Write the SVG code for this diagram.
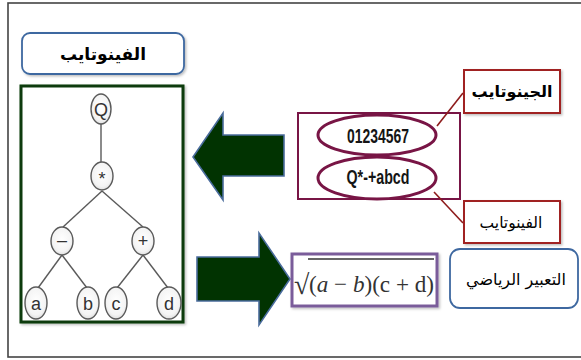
<svg xmlns="http://www.w3.org/2000/svg" width="581" height="360" viewBox="0 0 581 360">
<defs>
<radialGradient id="ng" cx="0.5" cy="0.45" r="0.6">
<stop offset="0" stop-color="#ffffff"/>
<stop offset="0.7" stop-color="#f4f4f4"/>
<stop offset="1" stop-color="#d8d8d8"/>
</radialGradient>
<filter id="sh" x="-10%" y="-10%" width="130%" height="130%">
<feDropShadow dx="1.5" dy="1.5" stdDeviation="1" flood-color="#000" flood-opacity="0.25"/>
</filter>
</defs>
<style>
.frame{fill:#fff;stroke:#444;stroke-width:1.6}
.bluebox{fill:#fff;stroke:#3e68a0;stroke-width:1.8}
.redbox{fill:#fff;stroke:#a02020;stroke-width:2}
.node{fill:url(#ng);stroke:#5a5a5a;stroke-width:1.4}
.edge{stroke:#5a5a5a;stroke-width:1.4;fill:none}
.ntxt{font-family:"Liberation Sans",Arial,sans-serif;font-size:18px;fill:#333;text-anchor:middle}
.ar{font-family:"DejaVu Sans",sans-serif;fill:#000;text-anchor:middle}
.arrow{fill:#013301;stroke:#4a6c9c;stroke-width:1.6}
.gen{fill:none;stroke:#781545;stroke-width:3}
.gtxt{font-family:"Liberation Sans",Arial,sans-serif;font-size:21px;font-weight:bold;fill:#151515;text-anchor:middle}
.lead{stroke:#8e1c1c;stroke-width:1.6}
</style>
<rect class="frame" x="8" y="3" width="600" height="354"/>

<g id="phenotype-title">
<rect class="bluebox" x="22" y="33" width="162" height="41" rx="8" filter="url(#sh)"/>
<text class="ar" x="103" y="60" font-size="17" font-weight="bold">الفينوتايب</text>
</g>

<g id="tree">
<rect x="21" y="86" width="162" height="236" fill="#fff" stroke="#0c3a0c" stroke-width="3" filter="url(#sh)"/>
<g class="connectors">
<line class="edge" x1="101" y1="124" x2="101" y2="162"/>
<line class="edge" x1="102" y1="191" x2="63" y2="227"/>
<line class="edge" x1="102" y1="191" x2="143" y2="227"/>
<line class="edge" x1="62" y1="255" x2="38" y2="288"/>
<line class="edge" x1="62" y1="255" x2="87" y2="288"/>
<line class="edge" x1="143" y1="255" x2="117" y2="288"/>
<line class="edge" x1="143" y1="255" x2="168" y2="288"/>
</g>
<g id="nQ"><ellipse class="node" cx="101" cy="109" rx="10" ry="15"/><text class="ntxt" x="101" y="116">Q</text></g>
<g id="nMul"><ellipse class="node" cx="102" cy="176" rx="11" ry="14"/><text class="ntxt" x="102" y="185" font-size="14">*</text></g>
<g id="nMinus"><ellipse class="node" cx="62" cy="241" rx="11" ry="14"/><text class="ntxt" x="62" y="246">–</text></g>
<g id="nPlus"><ellipse class="node" cx="143" cy="241" rx="11" ry="14"/><text class="ntxt" x="143" y="247">+</text></g>
<g id="na"><ellipse class="node" cx="36" cy="303" rx="11" ry="16"/><text class="ntxt" x="36" y="310" font-size="20">a</text></g>
<g id="nb"><ellipse class="node" cx="88" cy="303" rx="11" ry="16"/><text class="ntxt" x="88" y="310" font-size="20">b</text></g>
<g id="nc"><ellipse class="node" cx="116" cy="303" rx="11" ry="16"/><text class="ntxt" x="116" y="310" font-size="20">c</text></g>
<g id="nd"><ellipse class="node" cx="169" cy="303" rx="12" ry="16"/><text class="ntxt" x="169" y="310" font-size="20">d</text></g>
</g>

<g id="arrow-left">
<polygon class="arrow" points="193,157 223,113 223,135 284,135 284,176 223,176 223,200"/>
</g>
<g id="arrow-right">
<polygon class="arrow" points="197,257 259,257 259,233 290,279 259,325 259,301 197,301"/>
</g>

<g id="genotype-box">
<rect x="298" y="113" width="162" height="86" fill="#fff" stroke="#781545" stroke-width="2"/>
<ellipse class="gen" cx="377" cy="135" rx="59" ry="20"/>
<ellipse class="gen" cx="377" cy="178" rx="59" ry="21"/>
<text class="gtxt" x="378" y="143" textLength="62" lengthAdjust="spacingAndGlyphs">01234567</text>
<text class="gtxt" x="378" y="184" textLength="63" lengthAdjust="spacingAndGlyphs">Q*-+abcd</text>
</g>

<g id="connectors">
<line class="lead" x1="437" y1="126" x2="463" y2="93"/>
<line class="lead" x1="434" y1="192" x2="463" y2="223"/>
</g>

<g id="genotype-label">
<rect class="redbox" x="464" y="70" width="96" height="43" filter="url(#sh)"/>
<text class="ar" x="512" y="97" font-size="16" font-weight="bold">الجينوتايب</text>
</g>

<g id="phenotype-label">
<rect class="redbox" x="464" y="201" width="96" height="42" filter="url(#sh)"/>
<text class="ar" x="511" y="228" font-size="15.5">الفينوتايب</text>
</g>

<g id="math">
<rect x="292" y="254" width="145" height="52" fill="#fff" stroke="#7a5c9a" stroke-width="3" filter="url(#sh)"/>
<text x="294" y="294" font-family="'Liberation Serif','DejaVu Serif',serif" font-size="28" fill="#333">√</text>
<line x1="308" y1="259" x2="434" y2="259" stroke="#333" stroke-width="1.3"/>
<text x="309" y="292" font-family="'Liberation Serif','DejaVu Serif',serif" font-size="24" fill="#333" textLength="125" lengthAdjust="spacingAndGlyphs">(<tspan font-style="italic">a</tspan> − <tspan font-style="italic">b</tspan>)(c + d)</text>
</g>

<g id="math-label">
<rect class="bluebox" x="450" y="249" width="128" height="59" rx="10"/>
<text class="ar" x="516" y="285" font-size="16">التعبير الرياضي</text>
</g>
</svg>
